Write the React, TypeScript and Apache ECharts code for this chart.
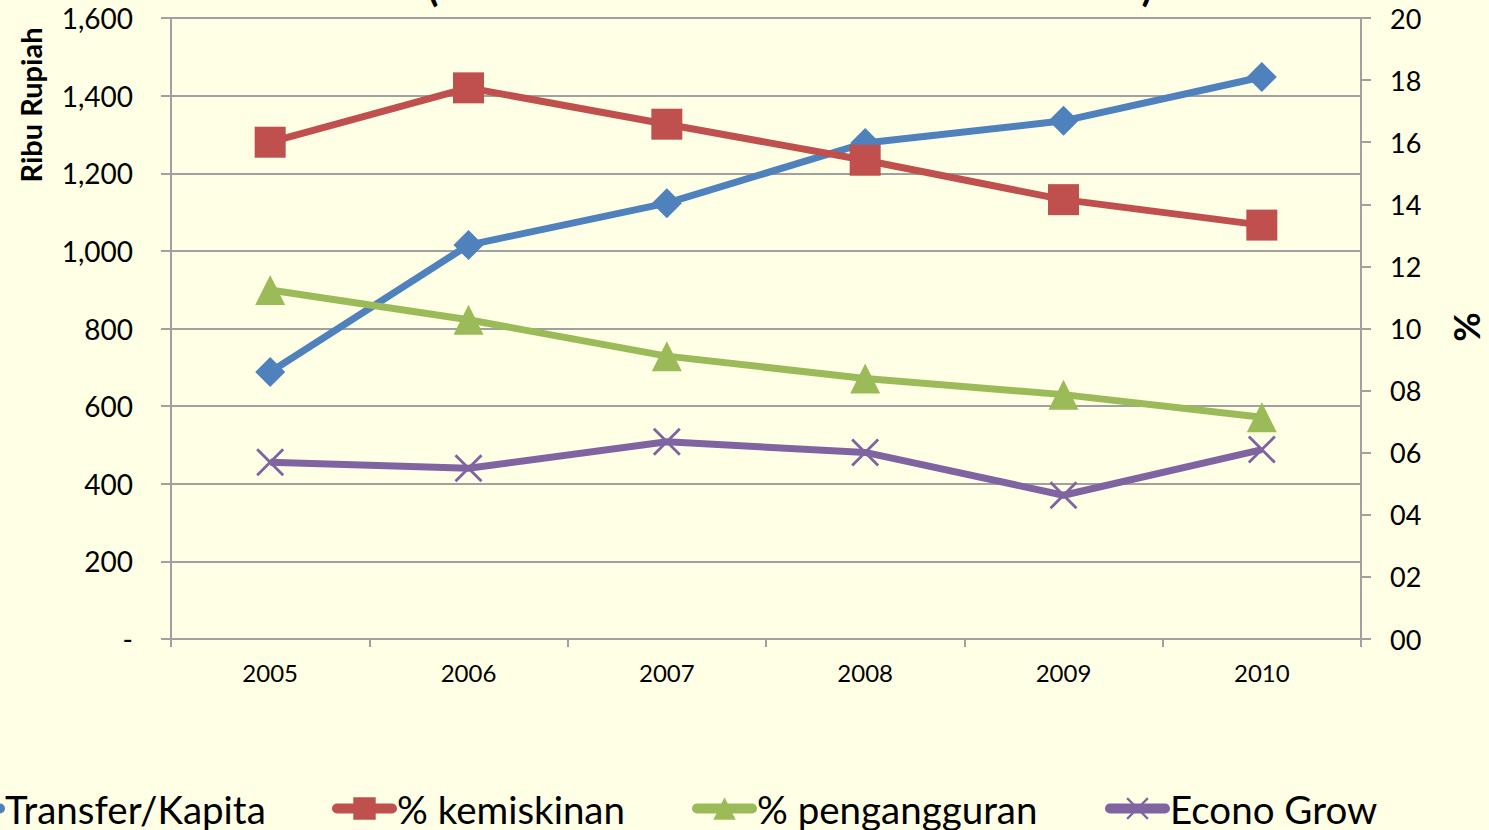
import React, { useEffect, useRef } from "react";
import * as echarts from "echarts";

const years = ["2005", "2006", "2007", "2008", "2009", "2010"];
const transferKapita = [688, 1015, 1123, 1278, 1335, 1448];
const kemiskinan = [16.0, 17.75, 16.58, 15.42, 14.15, 13.33];
const pengangguran = [11.24, 10.28, 9.11, 8.39, 7.87, 7.14];
const econoGrow = [5.69, 5.5, 6.35, 6.01, 4.63, 6.1];

const FONT = "Lato, 'Open Sans', sans-serif";
const BG = "#FFFFE5";
const AXIS = "#A0A0A0";
const X_PATH =
  "path://M1,0 L7,6 L13,0 L14,1 L8,7 L14,13 L13,14 L7,8 L1,14 L0,13 L6,7 L0,1 Z";

export default function App() {
  const ref = useRef<HTMLDivElement>(null);
  useEffect(() => {
    document.body.style.margin = "0";
    document.body.style.overflow = "hidden";
    const chart = echarts.init(ref.current!, null, { renderer: "svg" });
    const legendBase = {
      top: 784,
      itemWidth: 55,
      itemHeight: 28,
      lineStyle: { width: 10, cap: "round" },
      textStyle: { fontFamily: FONT, fontSize: 38.5, color: "#000" },
    };
    chart.setOption({
      animation: false,
      backgroundColor: BG,
      grid: { left: 171, right: 128, top: 18, bottom: 191, containLabel: false, outerBoundsMode: "none" },
      legend: [
        { ...legendBase, left: -65, data: ["Transfer/Kapita"] },
        { ...legendBase, left: 327, data: ["% kemiskinan"] },
        { ...legendBase, left: 687, data: ["% pengangguran"] },
        { ...legendBase, left: 1100, data: ["Econo Grow"] },
      ],
      xAxis: {
        type: "category",
        data: years,
        boundaryGap: true,
        axisLine: { lineStyle: { color: AXIS, width: 2 } },
        axisTick: { show: true, length: 8, lineStyle: { color: AXIS, width: 2 } },
        axisLabel: { fontFamily: FONT, fontSize: 24, color: "#000", margin: 21 },
      },
      yAxis: [
        {
          type: "value",
          min: 0,
          max: 1600,
          interval: 200,
          axisLine: { show: true, lineStyle: { color: AXIS, width: 2 } },
          axisTick: { show: true, length: 10, lineStyle: { color: AXIS, width: 2 } },
          splitLine: { show: true, lineStyle: { color: AXIS, width: 2 } },
          axisLabel: {
            fontFamily: FONT,
            fontSize: 28,
            color: "#000",
            margin: 38,
            formatter: (v: number) => (v === 0 ? "-" : v.toLocaleString("en-US")),
          },
        },
        {
          type: "value",
          min: 0,
          max: 20,
          interval: 2,
          position: "right",
          axisLine: { show: true, lineStyle: { color: AXIS, width: 2 } },
          axisTick: { show: true, length: 10, lineStyle: { color: AXIS, width: 2 } },
          splitLine: { show: false },
          axisLabel: {
            fontFamily: FONT,
            fontSize: 27,
            color: "#000",
            margin: 29,
            formatter: (v: number) => String(v).padStart(2, "0"),
          },
        },
      ],
      series: [
        {
          name: "Transfer/Kapita",
          type: "line",
          yAxisIndex: 0,
          data: transferKapita,
          color: "#4F81BD",
          lineStyle: { width: 7 },
          symbol: "diamond",
          symbolSize: 30,
        },
        {
          name: "% kemiskinan",
          type: "line",
          yAxisIndex: 1,
          data: kemiskinan,
          color: "#C0504D",
          lineStyle: { width: 7 },
          symbol: "rect",
          symbolSize: 31,
        },
        {
          name: "% pengangguran",
          type: "line",
          yAxisIndex: 1,
          data: pengangguran,
          color: "#9BBB59",
          lineStyle: { width: 7 },
          symbol: "triangle",
          symbolSize: 30,
        },
        {
          name: "Econo Grow",
          type: "line",
          yAxisIndex: 1,
          data: econoGrow,
          color: "#8064A2",
          lineStyle: { width: 7 },
          symbol: X_PATH,
          symbolSize: 28,
        },
      ],
      graphic: [
        {
          type: "text",
          x: 30,
          y: 105,
          rotation: Math.PI / 2,
          style: {
            text: "Ribu Rupiah",
            font: `bold 29px ${FONT}`,
            fill: "#000",
            align: "center",
            verticalAlign: "middle",
          },
        },
        {
          type: "text",
          x: 1466,
          y: 327,
          rotation: Math.PI / 2,
          style: {
            text: "%",
            font: `bold 36px ${FONT}`,
            fill: "#000",
            align: "center",
            verticalAlign: "middle",
          },
        },
        {
          type: "text",
          x: 433,
          y: -14,
          style: { text: "(", font: `bold 40px ${FONT}`, fill: "#000", align: "center", verticalAlign: "middle" },
        },
        {
          type: "text",
          x: 1147,
          y: -14,
          style: { text: ")", font: `bold 40px ${FONT}`, fill: "#000", align: "center", verticalAlign: "middle" },
        },
      ],
    });
    return () => chart.dispose();
  }, []);
  return <div ref={ref} style={{ width: 1489, height: 830 }} />;
}
